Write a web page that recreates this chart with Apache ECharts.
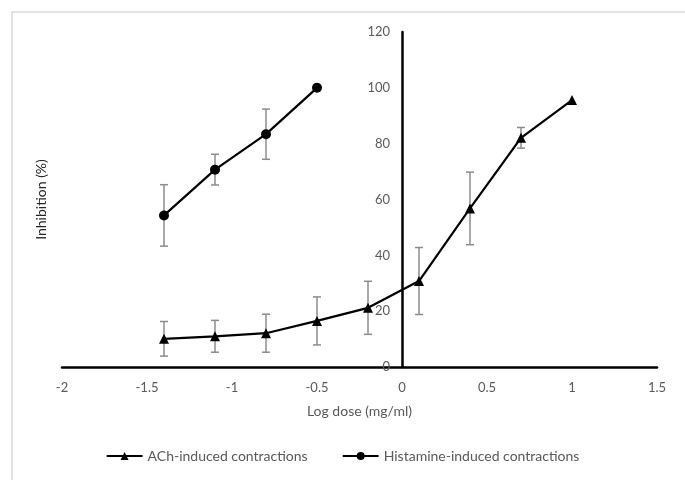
<!DOCTYPE html>
<html lang="en">
<head>
    <meta charset="UTF-8">
    <title>Inhibition vs log dose</title>
    <style>
        html, body { margin: 0; padding: 0; background: #fff; }
        #main { width: 685px; height: 480px; }
    </style>
</head>
<body>
<div id="main"></div>
<script src="https://cdn.jsdelivr.net/npm/echarts@6/dist/echarts.min.js"></script>
<script>
    // data
    const achDose = [-1.4, -1.1, -0.8, -0.5, -0.2, 0.1, 0.4, 0.7, 1.0];
    const achInhib = [10.1, 11.0, 12.1, 16.5, 21.2, 30.8, 56.8, 82.1, 95.6];
    const achErr = [6.2, 5.7, 6.8, 8.6, 9.5, 12.0, 13.0, 3.7, 0];

    const histDose = [-1.4, -1.1, -0.8, -0.5];
    const histInhib = [54.3, 70.7, 83.4, 100];
    const histErr = [11.0, 5.5, 9.0, 0];

    const xTicks = [-2, -1.5, -1, -0.5, 0, 0.5, 1, 1.5];

    const font = 'Lato, "Open Sans", sans-serif';
    const txt = '#595959';

    // grid box
    const gLeft = 62, gRight = 28, W = 685;
    const xMin = -2, xMax = 1.5;
    // the y axis sits at x = 0, so shift it inward by that many px
    const yShift = (W - gLeft - gRight) * (0 - xMin) / (xMax - xMin);

    const myChart = echarts.init(document.getElementById('main'));

    function pairs(xs, ys) {
        return xs.map((x, i) => [x, ys[i]]);
    }
    function errRows(xs, ys, es) {
        return xs.map((x, i) => [x, ys[i] - es[i], ys[i] + es[i]]).filter((r, i) => es[i] > 0);
    }

    // error bar: vertical gray line with small caps
    function renderErr(params, api) {
        const lo = api.coord([api.value(0), api.value(1)]);
        const hi = api.coord([api.value(0), api.value(2)]);
        const w = 4;
        const st = { stroke: '#8c8c8c', lineWidth: 1.5 };
        return {
            type: 'group',
            children: [
                { type: 'line', shape: { x1: lo[0], y1: lo[1], x2: hi[0], y2: hi[1] }, style: st },
                { type: 'line', shape: { x1: lo[0] - w, y1: lo[1], x2: lo[0] + w, y2: lo[1] }, style: st },
                { type: 'line', shape: { x1: hi[0] - w, y1: hi[1], x2: hi[0] + w, y2: hi[1] }, style: st }
            ]
        };
    }

    const option = {
        animation: false,
        textStyle: { fontFamily: font },
        graphic: [{
            type: 'rect',
            shape: { x: 12, y: 12, width: 700, height: 500 },
            style: { fill: 'none', stroke: '#d9d9d9', lineWidth: 1.5 },
            silent: true
        }],
        grid: { left: gLeft, right: gRight, top: 32, bottom: 113 },
        legend: {
            bottom: 12,
            left: 'center',
            itemWidth: 36,
            itemHeight: 10,
            itemGap: 34,
            textStyle: { color: txt, fontSize: 14, fontFamily: font },
            data: ['ACh-induced contractions', 'Histamine-induced contractions']
        },
        xAxis: {
            type: 'value',
            min: xMin,
            max: xMax,
            interval: 0.5,
            name: 'Log dose (mg/ml)',
            nameLocation: 'middle',
            nameGap: 37,
            nameTextStyle: { color: txt, fontSize: 14, fontFamily: font },
            axisLine: { lineStyle: { color: '#000', width: 2.5 } },
            axisTick: { show: false },
            splitLine: { show: false },
            axisLabel: {
                color: txt, fontSize: 13, margin: 14,
                customValues: xTicks,
                formatter: v => String(v)
            }
        },
        yAxis: [{
            type: 'value',
            min: 0,
            max: 120,
            interval: 20,
            position: 'left',
            offset: -yShift,
            axisLine: { show: true, onZero: false, lineStyle: { color: '#000', width: 2.5 } },
            axisTick: { show: false },
            splitLine: { show: false },
            axisLabel: { color: txt, fontSize: 13, margin: 12 }
        }, {
            type: 'value',
            min: 0,
            max: 120,
            position: 'left',
            name: 'Inhibition (%)',
            nameLocation: 'middle',
            nameGap: 14,
            nameTextStyle: { color: '#262626', fontSize: 14, fontFamily: font },
            axisLine: { show: false, onZero: false },
            axisTick: { show: false },
            axisLabel: { show: false },
            splitLine: { show: false }
        }],
        series: [
            {
                name: 'ACh-induced contractions',
                type: 'line',
                data: pairs(achDose, achInhib),
                symbol: 'triangle',
                symbolSize: 10,
                itemStyle: { color: '#000' },
                lineStyle: { color: '#000', width: 2.2 },
                z: 3
            },
            {
                name: 'Histamine-induced contractions',
                type: 'line',
                data: pairs(histDose, histInhib),
                symbol: 'circle',
                symbolSize: 10,
                itemStyle: { color: '#000' },
                lineStyle: { color: '#000', width: 2.2 },
                z: 3
            },
            {
                type: 'custom',
                renderItem: renderErr,
                data: errRows(achDose, achInhib, achErr),
                encode: { x: 0, y: [1, 2] },
                z: 2
            },
            {
                type: 'custom',
                renderItem: renderErr,
                data: errRows(histDose, histInhib, histErr),
                encode: { x: 0, y: [1, 2] },
                z: 2
            }
        ]
    };
    myChart.setOption(option);
</script>
</body>
</html>
